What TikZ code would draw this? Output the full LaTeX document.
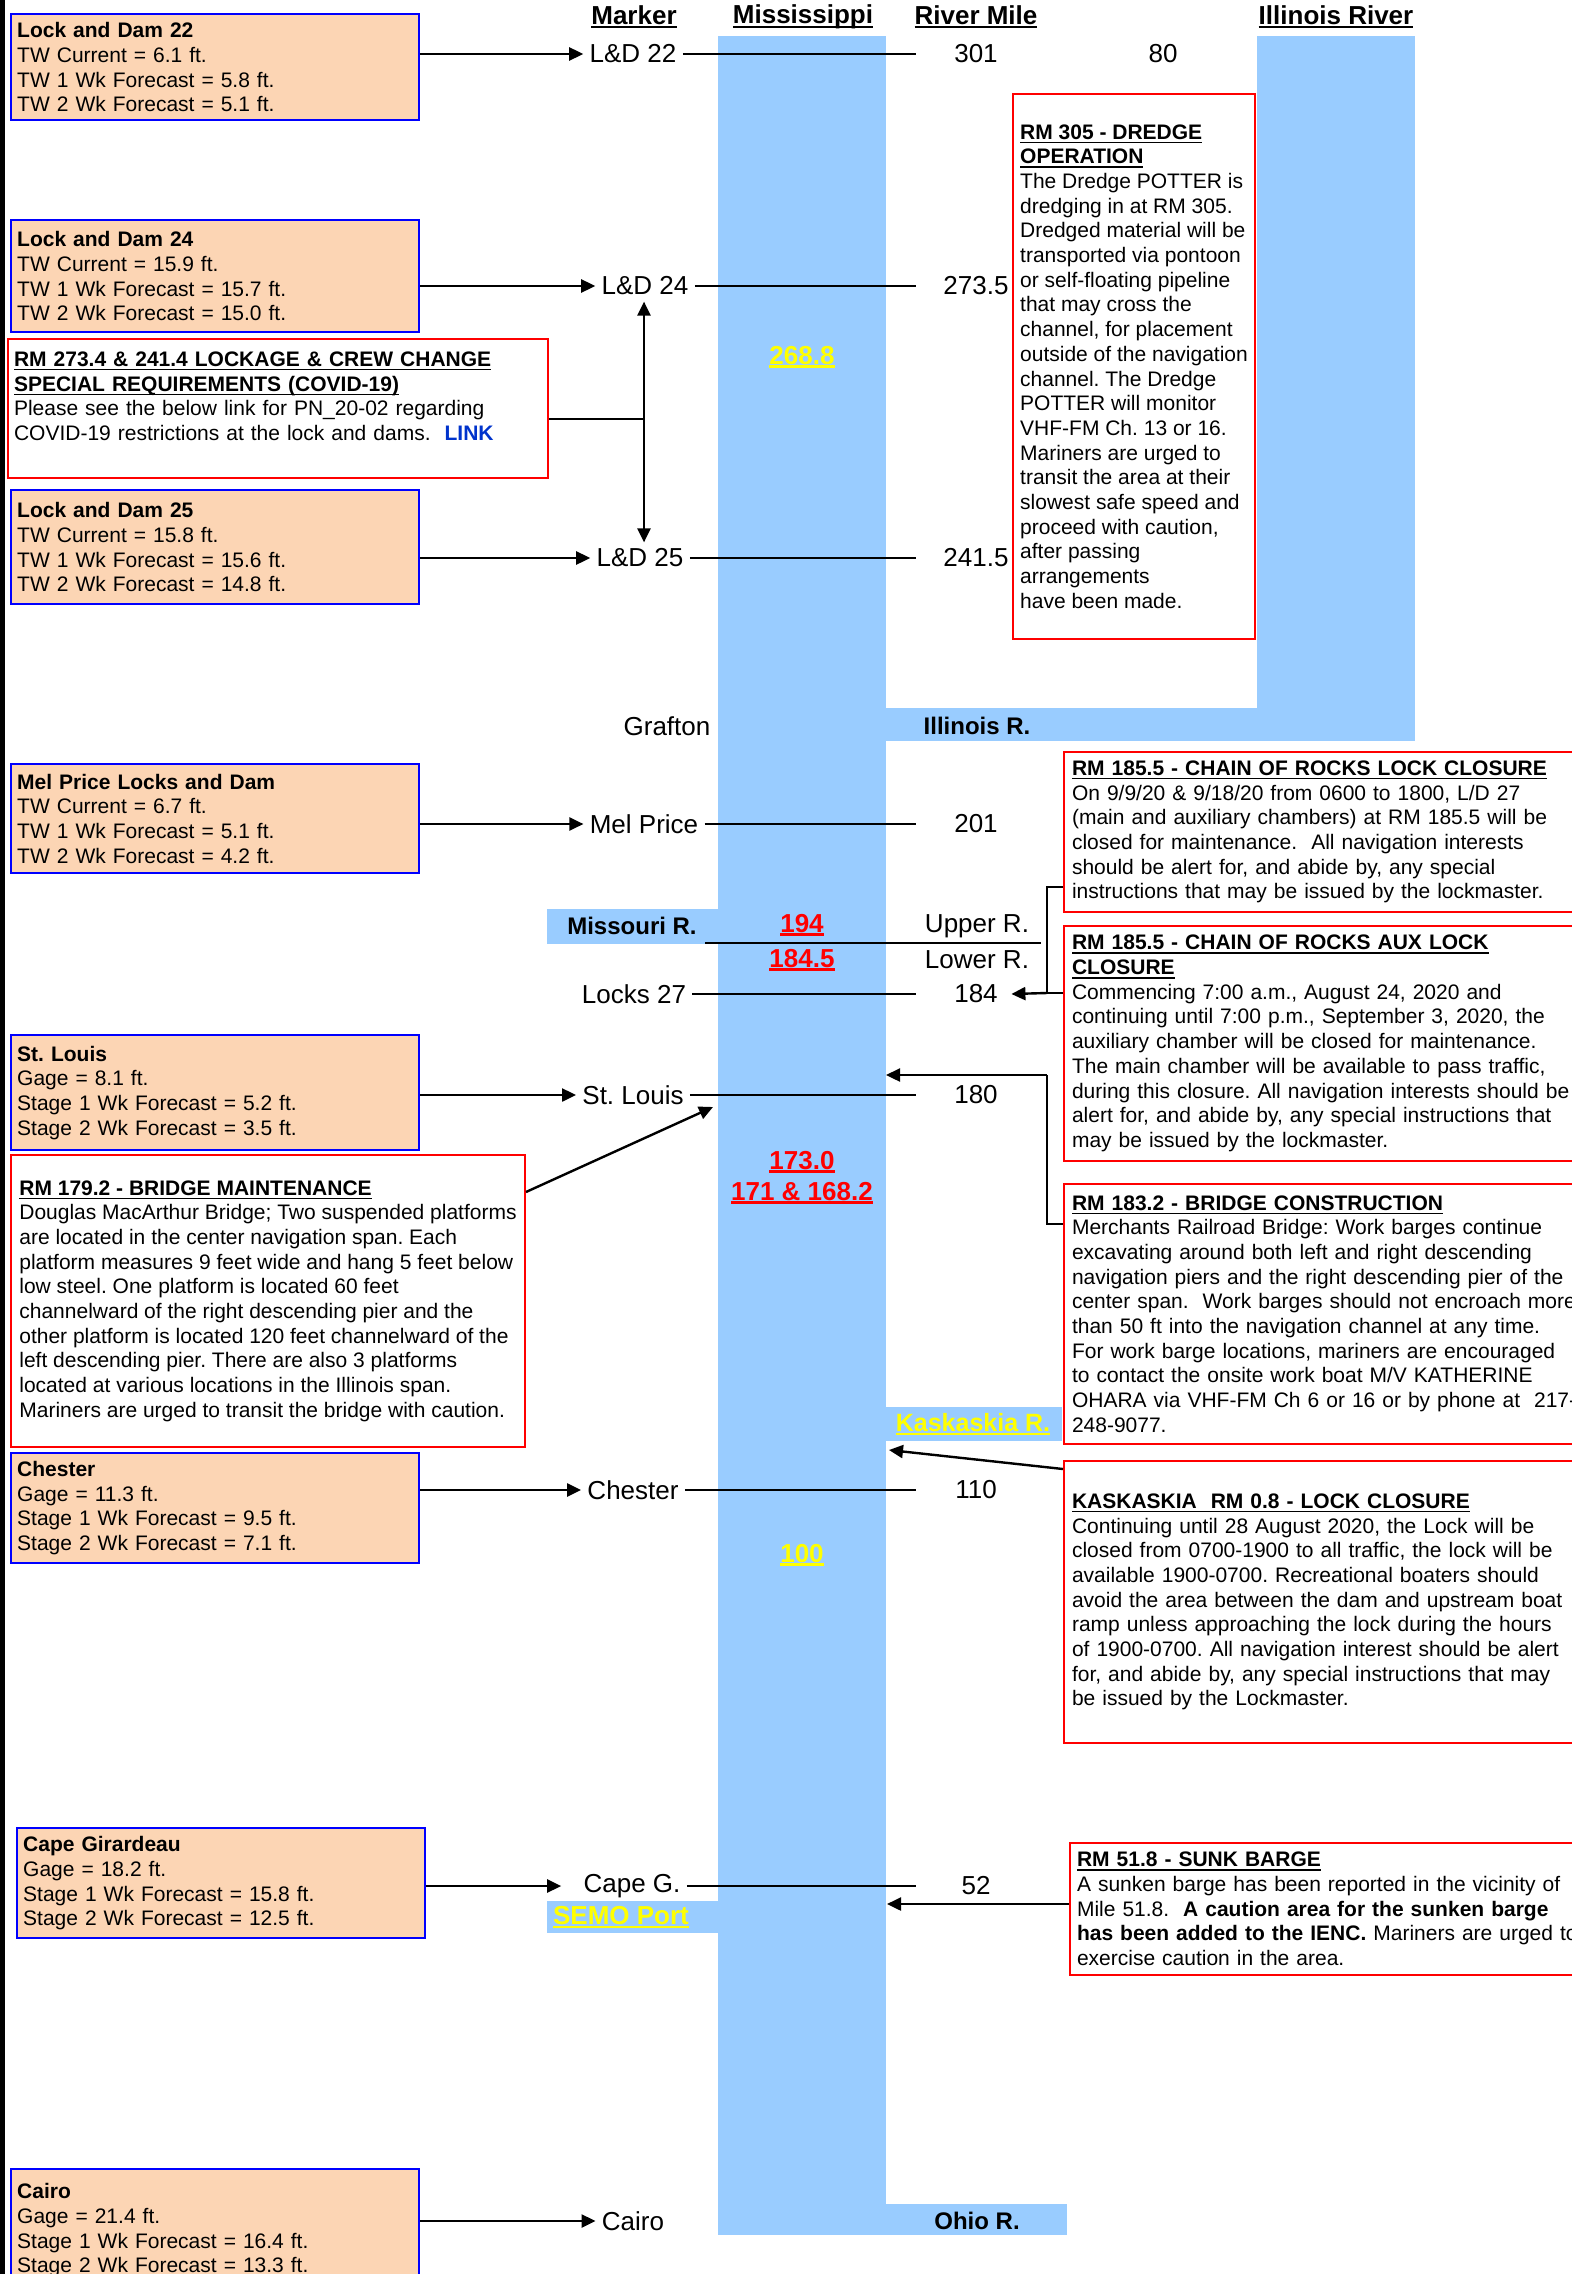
\documentclass[tikz,border=0pt]{standalone}
\usepackage{fontspec}
\setmainfont{Liberation Sans}
\usetikzlibrary{arrows.meta}

\definecolor{peach}{RGB}{252,213,180}
\definecolor{boxblue}{RGB}{0,0,255}
\definecolor{riverblue}{RGB}{153,204,255}
\definecolor{hiyellow}{RGB}{255,255,0}
\definecolor{linkblue}{RGB}{0,51,204}
\newcommand{\boxfont}{\fontsize{10.5}{12.35}\selectfont}
\newsavebox{\ulbox}
\newcommand{\undl}[2][0.7pt]{\leavevmode\sbox{\ulbox}{#2}\rlap{\rule[-2pt]{\wd\ulbox}{#1}}\usebox{\ulbox}}
\newcommand{\notetitle}[1]{\undl{\textbf{#1}}}
\frenchspacing

\begin{document}
\begin{tikzpicture}[x=0.5pt, y=-0.5pt, >={Triangle[length=7pt,width=6.5pt]},
    lockbox/.style = {draw=boxblue, line width=1.2pt, fill=peach, anchor=north west, align=left, text width=198pt, inner xsep=3pt, inner ysep=1pt, font=\boxfont},
    notebase/.style = {draw=red, line width=1pt, fill=white, anchor=north west, align=left, inner xsep=4pt, inner ysep=1pt, font=\boxfont},
    notebox/.style = {notebase, text width=300pt},
    markname/.style = {font=\fontsize{13}{15.6}\selectfont, inner sep=3pt},
    mile/.style = {markname, minimum width=60pt},
    colhead/.style = {font=\fontsize{13}{15.6}\selectfont\bfseries},
    colnum/.style = {font=\fontsize{13}{15.6}\selectfont\bfseries},
    rivername/.style = {font=\fontsize{12}{14.4}\selectfont\bfseries},
    conn/.style = {line width=1.2pt},
    mileline/.style = {line width=0.8pt}]
\useasboundingbox (0,0) rectangle (1572,2274);
\fill[white] (0,0) rectangle (1572,2274);
\fill[black] (0,0) rectangle (5,2274);

    \node[fill=riverblue, inner sep=0pt, outer sep=0pt, anchor=north west, minimum width=84pt, minimum height=1099.5pt] (miss) at (718,36) {};
\fill[riverblue] (1257,36) rectangle (1415,741);
\fill[riverblue] (886,708) rectangle (1415,741);
\fill[riverblue] (547,909) rectangle (718,944);
\fill[riverblue] (886,1407) rectangle (1062,1441);
\fill[riverblue] (547,1901) rectangle (718,1933);
\fill[riverblue] (886,2204) rectangle (1067,2235);

    \node[colhead] (hmark) at (634,17) {\undl[1pt]{Marker}};
    \node[colhead] (hmiss) at (803,17) {\undl[1pt]{Mississippi}};
    \node[colhead] (hmile) at (976,17) {\undl[1pt]{River Mile}};
    \node[colhead] (hill) at (1336,17) {\undl[1pt]{Illinois River}};

    \node[lockbox, minimum height=53pt] (ld22) at (10,13) {\textbf{Lock and Dam 22}\\TW Current = 6.1 ft.\\TW 1 Wk Forecast = 5.8 ft.\\TW 2 Wk Forecast = 5.1 ft.};
    \node[lockbox, minimum height=56pt] (ld24) at (10,219) {\textbf{Lock and Dam 24}\\TW Current = 15.9 ft.\\TW 1 Wk Forecast = 15.7 ft.\\TW 2 Wk Forecast = 15.0 ft.};
    \node[notebase, text width=264pt, inner xsep=3pt, minimum height=69.5pt] (covid) at (7,338) {\notetitle{RM 273.4 \& 241.4 LOCKAGE \& CREW CHANGE}\\\notetitle{SPECIAL REQUIREMENTS (COVID-19)}\\Please see the below link for PN\_20-02 regarding\\COVID-19 restrictions at the lock and dams.\ \ {\color{linkblue}\textbf{LINK}}\\~};
    \node[lockbox, minimum height=57pt] (ld25) at (10,489) {\textbf{Lock and Dam 25}\\TW Current = 15.8 ft.\\TW 1 Wk Forecast = 15.6 ft.\\TW 2 Wk Forecast = 14.8 ft.};
    \node[lockbox, minimum height=54.5pt] (melbox) at (10,763) {\textbf{Mel Price Locks and Dam}\\TW Current = 6.7 ft.\\TW 1 Wk Forecast = 5.1 ft.\\TW 2 Wk Forecast = 4.2 ft.};
    \node[lockbox, minimum height=57.5pt] (stlbox) at (10,1034) {\textbf{St. Louis}\\Gage = 8.1 ft.\\Stage 1 Wk Forecast = 5.2 ft.\\Stage 2 Wk Forecast = 3.5 ft.};
    \node[notebase, inner xsep=3pt, minimum width=257pt, minimum height=146pt] (brm) at (10,1154) {\notetitle{RM 179.2 - BRIDGE MAINTENANCE}\\Douglas MacArthur Bridge; Two suspended platforms\\are located in the center navigation span. Each\\platform measures 9 feet wide and hang 5 feet below\\low steel. One platform is located 60 feet\\channelward of the right descending pier and the\\other platform is located 120 feet channelward of the\\left descending pier. There are also 3 platforms\\located at various locations in the Illinois span.\\Mariners are urged to transit the bridge with caution.};
    \node[lockbox, minimum height=55pt] (chebox) at (10,1452) {\textbf{Chester}\\Gage = 11.3 ft.\\Stage 1 Wk Forecast = 9.5 ft.\\Stage 2 Wk Forecast = 7.1 ft.};
    \node[lockbox, minimum height=55pt] (capbox) at (16,1827) {\textbf{Cape Girardeau}\\Gage = 18.2 ft.\\Stage 1 Wk Forecast = 15.8 ft.\\Stage 2 Wk Forecast = 12.5 ft.};
    \node[lockbox, minimum height=61pt] (caibox) at (10,2168) {\textbf{Cairo}\\Gage = 21.4 ft.\\Stage 1 Wk Forecast = 16.4 ft.\\Stage 2 Wk Forecast = 13.3 ft.};

    \node[notebase, minimum width=121pt, minimum height=272.5pt, inner xsep=2pt] (dredge) at (1012,93) {\notetitle{RM 305 - DREDGE}\\\notetitle{OPERATION}\\The Dredge POTTER is\\dredging in at RM 305.\\Dredged material will be\\transported via pontoon\\or self-floating pipeline\\that may cross the\\channel, for placement\\outside of the navigation\\channel. The Dredge\\POTTER will monitor\\VHF-FM Ch. 13 or 16.\\Mariners are urged to\\transit the area at their\\slowest safe speed and\\proceed with caution,\\after passing\\arrangements\\have been made.};
    \node[notebox, minimum height=80pt] (chain) at (1063,751) {\notetitle{RM 185.5 - CHAIN OF ROCKS LOCK CLOSURE}\\On 9/9/20 \& 9/18/20 from 0600 to 1800, L/D 27\\(main and auxiliary chambers) at RM 185.5 will be\\closed for maintenance.\ \ All navigation interests\\should be alert for, and abide by, any special\\instructions that may be issued by the lockmaster.};
    \node[notebox, minimum height=117.5pt] (aux) at (1063,925) {\notetitle{RM 185.5 - CHAIN OF ROCKS AUX LOCK}\\\notetitle{CLOSURE}\\Commencing 7:00 a.m., August 24, 2020 and\\continuing until 7:00 p.m., September 3, 2020, the\\auxiliary chamber will be closed for maintenance.\\The main chamber will be available to pass traffic,\\during this closure. All navigation interests should be\\alert for, and abide by, any special instructions that\\may be issued by the lockmaster.};
    \node[notebox, minimum height=130pt] (bridge) at (1063,1183) {\notetitle{RM 183.2 - BRIDGE CONSTRUCTION}\\Merchants Railroad Bridge: Work barges continue\\excavating around both left and right descending\\navigation piers and the right descending pier of the\\center span.\ \ Work barges should not encroach more\\than 50 ft into the navigation channel at any time.\\For work barge locations, mariners are encouraged\\to contact the onsite work boat M/V KATHERINE\\OHARA via VHF-FM Ch 6 or 16 or by phone at\ \ 217-\\248-9077.};
    \node[notebox, minimum height=141pt] (kask) at (1063,1460) {\notetitle{KASKASKIA\ \ RM 0.8 - LOCK CLOSURE}\\Continuing until 28 August 2020, the Lock will be\\closed from 0700-1900 to all traffic, the lock will be\\available 1900-0700. Recreational boaters should\\avoid the area between the dam and upstream boat\\ramp unless approaching the lock during the hours\\of 1900-0700. All navigation interest should be alert\\for, and abide by, any special instructions that may\\be issued by the Lockmaster.};
    \node[notebox, inner xsep=3.5pt, minimum height=66pt] (sunk) at (1069,1842) {\notetitle{RM 51.8 - SUNK BARGE}\\A sunken barge has been reported in the vicinity of\\Mile 51.8.\ \ \textbf{A caution area for the sunken barge}\\\textbf{has been added to the IENC.} Mariners are urged to\\exercise caution in the area.};

    \node[markname] (l22) at (633,54) {L\&D 22};
    \node[markname] (l24) at (645,286) {L\&D 24};
    \node[markname] (l25) at (640,558) {L\&D 25};
    \node[markname] (gra) at (667,726) {Grafton};
    \node[markname] (mel) at (644,824) {Mel Price};
    \node[markname] (lk27) at (634,994) {Locks 27};
    \node[markname] (stl) at (633,1095) {St. Louis};
    \node[markname] (che) at (633,1490) {Chester};
    \node[markname] (cap) at (632,1886) {Cape G.};
    \node[markname] (cai) at (633,2221) {Cairo};

    \node[mile] (m301) at (976,54) {301};
    \node[markname] (m80) at (1163,54) {80};
    \node[mile] (m2735) at (976,286) {273.5};
    \node[mile] (m2415) at (976,558) {241.5};
    \node[mile] (m201) at (976,824) {201};
    \node[markname] (upr) at (977,926) {Upper R.};
    \node[markname] (lwr) at (977,960) {Lower R.};
    \node[mile] (m184) at (976,994) {184};
    \node[mile] (m180) at (976,1095) {180};
    \node[mile] (m110) at (976,1490) {110};
    \node[mile] (m52) at (976,1886) {52};

    \node[rivername] (illr) at (977,726) {Illinois R.};
    \node[rivername] (mor) at (632,926) {Missouri R.};
    \node[rivername, font=\fontsize{12.5}{15}\selectfont\bfseries, text=hiyellow] (kaskr) at (973,1424) {\undl[1.2pt]{Kaskaskia R.}};
    \node[colnum, text=hiyellow] (semo) at (621,1917) {\undl[1.2pt]{SEMO Port}};
    \node[rivername] (ohior) at (977,2221) {Ohio R.};

    \node[colnum, text=hiyellow] (rm2688) at (802,357) {\undl[1.3pt]{268.8}};
    \node[colnum, text=red] (rm194) at (802,925) {\undl[1.3pt]{194}};
    \node[colnum, text=red] (rm1845) at (802,960) {\undl[1.3pt]{184.5}};
    \node[colnum, text=red] (rm173) at (802,1162) {\undl[1.3pt]{173.0}};
    \node[colnum, text=red] (rm171) at (802,1193) {\undl[1.3pt]{171 \& 168.2}};
    \node[colnum, text=hiyellow] (rm100) at (802,1555) {\undl[1.3pt]{100}};

    \coordinate (cj) at (644,419);
    \coordinate (brk1) at (1047,887);
    \coordinate (brk2) at (1047,993);
    \coordinate (brk3) at (1047,1075);
    \coordinate (brk4) at (1047,1224);
    \coordinate (stltip) at (713,1107);
    \coordinate (kasktip) at (889,1450);
    \coordinate (sunktip) at (887,1904);

\draw[conn, ->] (ld22.east |- l22) -- (l22);
\draw[conn, ->] (ld24.east |- l24) -- (l24);
\draw[conn, ->] (ld25.east |- l25) -- (l25);
\draw[conn, ->] (melbox.east |- mel) -- (mel);
\draw[conn, ->] (stlbox.east |- stl) -- (stl);
\draw[conn, ->] (chebox.east |- che) -- (che);
\draw[conn, ->, shorten >=8pt] (capbox.east |- cap) -- (cap);
\draw[conn, ->] (caibox.east |- cai) -- (cai);

\draw[mileline] (l22) -- (m301);
\draw[mileline] (l24) -- (m2735);
\draw[mileline] (l25) -- (m2415);
\draw[mileline] (mel) -- (m201);
\draw[mileline] (lk27) -- (m184);
\draw[mileline] (stl) -- (m180);
\draw[mileline] (che) -- (m110);
\draw[mileline] (cap) -- (m52);
\draw[mileline] (705,943) -- (1041,943);

\draw[conn] (covid.east |- cj) -- (cj);
\draw[conn, ->] (cj) -- (cj |- l24.south);
\draw[conn, ->] (cj) -- (cj |- l25.north);

\draw[conn] (chain.west |- brk1) -- (brk1) -- (brk2);
\draw[conn] (aux.west |- brk2) -- (brk2);
\draw[conn, ->] (brk2) -- ([xshift=-12.5pt]m184.east);

\draw[conn] (bridge.west |- brk4) -- (brk4) -- (brk3);
\draw[conn, ->] (brk3) -- (miss.east |- brk3);

\draw[conn, ->] ([yshift=-19pt]brm.north east) -- (stltip);
\draw[conn, ->] ([yshift=-4.5pt]kask.north west) -- (kasktip);
\draw[conn, ->] (sunk.west |- sunktip) -- (sunktip);
\end{tikzpicture}
\end{document}
